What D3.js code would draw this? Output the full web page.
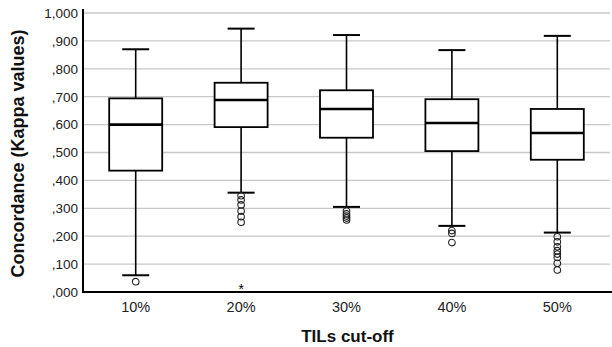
<!DOCTYPE html>
<html>
<head>
<meta charset="utf-8">
<script src="https://cdn.jsdelivr.net/npm/d3@7"></script>
<style>
body { margin: 0; background: #fff; }
text { font-family: "Liberation Sans", Arial, sans-serif; }
</style>
</head>
<body>
<svg id="chart" width="612" height="347"></svg>
<script>
// TILs cut-off groups
var categories = ["10%", "20%", "30%", "40%", "50%"];
var lowerWhisker = [0.060, 0.356, 0.305, 0.237, 0.213];
var q1 = [0.435, 0.591, 0.553, 0.505, 0.474];
var median = [0.600, 0.688, 0.656, 0.606, 0.570];
var q3 = [0.694, 0.750, 0.723, 0.691, 0.656];
var upperWhisker = [0.870, 0.944, 0.921, 0.867, 0.918];
var outliers = [
	[0.037],
	[0.345, 0.330, 0.312, 0.290, 0.270, 0.250],
	[0.290, 0.280, 0.272, 0.265, 0.258],
	[0.220, 0.210, 0.177],
	[0.198, 0.180, 0.162, 0.148, 0.136, 0.124, 0.103, 0.079]
];
var extremes = [[], [0.017], [], [], []];
var yTicks = [0, 0.1, 0.2, 0.3, 0.4, 0.5, 0.6, 0.7, 0.8, 0.9, 1.0];

var margin = { top: 13, right: 2, bottom: 55, left: 83 };
var width = 612, height = 347;

var svg = d3.select("#chart");

var x = d3.scaleBand()
	.domain(categories)
	.range([margin.left, width - margin.right])
	.paddingInner(0)
	.paddingOuter(0);

var y = d3.scaleLinear()
	.domain([0, 1])
	.range([height - margin.bottom, margin.top]);

function fmt(v) {
	var s = d3.format(".3f")(v).replace(".", ",");
	if (s.indexOf("0,") == 0) s = s.substring(1);
	return s;
}

// gridlines
svg.append("g")
	.selectAll("line")
	.data(yTicks.slice(1))
	.enter().append("line")
	.attr("x1", margin.left)
	.attr("x2", width - margin.right)
	.attr("y1", function(d) { return y(d); })
	.attr("y2", function(d) { return y(d); })
	.attr("stroke", "#c8c8c8")
	.attr("stroke-width", 1.3);

// y axis
var yAxis = svg.append("g")
	.attr("transform", "translate(" + margin.left + ",0)")
	.call(d3.axisLeft(y).tickValues(yTicks).tickSize(0).tickPadding(5).tickFormat(fmt));
yAxis.select(".domain").remove();
yAxis.selectAll("text")
	.attr("font-size", 13.5)
	.attr("fill", "#222")
	.style("font-family", "'Liberation Sans', Arial, sans-serif");

svg.append("line")
	.attr("x1", margin.left).attr("x2", margin.left)
	.attr("y1", margin.top - 4).attr("y2", y(0) + 1)
	.attr("stroke", "#000").attr("stroke-width", 2);

// x axis
var xAxis = svg.append("g")
	.attr("transform", "translate(0," + y(0) + ")")
	.call(d3.axisBottom(x).tickSize(0).tickPadding(10));
xAxis.select(".domain").remove();
xAxis.selectAll("text")
	.attr("font-size", 14.5)
	.attr("fill", "#222")
	.style("font-family", "'Liberation Sans', Arial, sans-serif");

svg.append("line")
	.attr("x1", margin.left - 1).attr("x2", width)
	.attr("y1", y(0)).attr("y2", y(0))
	.attr("stroke", "#000").attr("stroke-width", 2);

// boxes
var boxW = 53, capW = 27;
var groups = svg.append("g")
	.selectAll("g")
	.data(categories)
	.enter().append("g")
	.attr("transform", function(d) { return "translate(" + (x(d) + x.bandwidth() / 2) + ",0)"; });

groups.append("line")
	.attr("x1", 0).attr("x2", 0)
	.attr("y1", function(d, i) { return y(upperWhisker[i]); })
	.attr("y2", function(d, i) { return y(q3[i]); })
	.attr("stroke", "#000").attr("stroke-width", 1.6);
groups.append("line")
	.attr("x1", 0).attr("x2", 0)
	.attr("y1", function(d, i) { return y(q1[i]); })
	.attr("y2", function(d, i) { return y(lowerWhisker[i]); })
	.attr("stroke", "#000").attr("stroke-width", 1.6);
groups.append("line")
	.attr("x1", -capW / 2).attr("x2", capW / 2)
	.attr("y1", function(d, i) { return y(upperWhisker[i]); })
	.attr("y2", function(d, i) { return y(upperWhisker[i]); })
	.attr("stroke", "#000").attr("stroke-width", 2);
groups.append("line")
	.attr("x1", -capW / 2).attr("x2", capW / 2)
	.attr("y1", function(d, i) { return y(lowerWhisker[i]); })
	.attr("y2", function(d, i) { return y(lowerWhisker[i]); })
	.attr("stroke", "#000").attr("stroke-width", 2);
groups.append("rect")
	.attr("x", -boxW / 2)
	.attr("width", boxW)
	.attr("y", function(d, i) { return y(q3[i]); })
	.attr("height", function(d, i) { return y(q1[i]) - y(q3[i]); })
	.attr("fill", "#fff")
	.attr("stroke", "#000").attr("stroke-width", 1.8);
groups.append("line")
	.attr("x1", -boxW / 2).attr("x2", boxW / 2)
	.attr("y1", function(d, i) { return y(median[i]); })
	.attr("y2", function(d, i) { return y(median[i]); })
	.attr("stroke", "#000").attr("stroke-width", 2.6);

// outliers
groups.selectAll("circle")
	.data(function(d, i) { return outliers[i]; })
	.enter().append("circle")
	.attr("cx", 0)
	.attr("cy", function(v) { return y(v); })
	.attr("r", 3.3)
	.attr("fill", "none")
	.attr("stroke", "#222").attr("stroke-width", 1.1);

groups.selectAll("text.extreme")
	.data(function(d, i) { return extremes[i]; })
	.enter().append("text")
	.attr("class", "extreme")
	.attr("x", 0)
	.attr("y", function(v) { return y(v) + 7; })
	.attr("text-anchor", "middle")
	.attr("font-size", 14)
	.attr("fill", "#000")
	.text("*");

// axis titles
svg.append("text")
	.attr("x", (margin.left + width) / 2)
	.attr("y", 342)
	.attr("text-anchor", "middle")
	.attr("font-size", 17)
	.attr("font-weight", "bold")
	.attr("fill", "#111")
	.text("TILs cut-off");

svg.append("text")
	.attr("transform", "translate(24," + ((margin.top + y(0)) / 2 + 1) + ") rotate(-90)")
	.attr("text-anchor", "middle")
	.attr("font-size", 18)
	.attr("font-weight", "bold")
	.attr("fill", "#111")
	.text("Concordance (Kappa values)");
</script>
</body>
</html>
